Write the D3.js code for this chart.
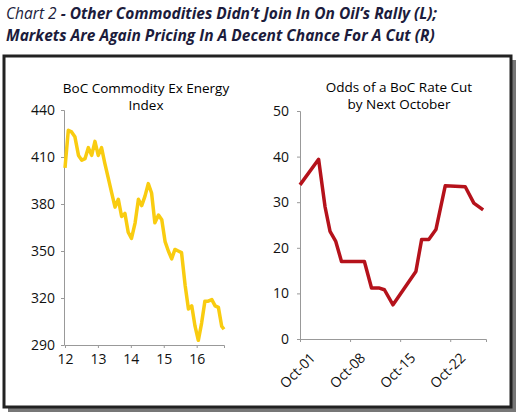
<!DOCTYPE html><html><head><meta charset="utf-8">
<script src="https://cdn.jsdelivr.net/npm/d3@7"></script>
<style>body{margin:0;background:#fff}text{font-family:"Open Sans",sans-serif}</style></head><body>
<svg id="c" width="522" height="417"></svg>
<script>
const leftYears=[12.00,12.10,12.20,12.30,12.41,12.51,12.61,12.71,12.81,12.91,13.01,13.11,13.21,13.32,13.42,13.52,13.62,13.72,13.82,13.92,14.02,14.13,14.23,14.33,14.43,14.53,14.63,14.73,14.84,14.94,15.04,15.14,15.24,15.34,15.44,15.54,15.65,15.75,15.85,15.95,16.05,16.15,16.25,16.35,16.46,16.56,16.66,16.76,16.83];
const leftValues=[403,427,426,423,411,408,409,416,411,420,411,416,406,396,387,378,383,372,374,362,358,368,383,379,385,393,387,368,373,370,356,350,345,351,350,349,328,313,315,302,293,304,318,318,319,315,314,302,300];
const leftTicksY=[290,320,350,380,410,440];
const leftTicksX=[12,13,14,15,16];
const rightDays=[1,3.6,4.5,5.2,6,6.8,10,11,12,12.8,14,17.2,18,19,20,21.3,24.1,25.3,26.6];
const rightValues=[33.8,39.4,29,23.6,21.4,17,17,11.2,11.2,10.8,7.5,14.8,21.8,21.8,24,33.6,33.4,29.8,28.3];
const rightTicksY=[0,10,20,30,40,50];
const rightTicksX=[1,8,15,22];
const rightTickLabels=["Oct-01","Oct-08","Oct-15","Oct-22"];

const svg=d3.select("#c");
svg.append("rect").attr("x",8).attr("y",60).attr("width",508).attr("height",352).attr("fill","#777");
svg.append("rect").attr("x",4).attr("y",56).attr("width",507).attr("height",351).attr("fill","#fff").attr("stroke","#222").attr("stroke-width",3);
const t=svg.append("text").attr("x",6).attr("y",19).attr("font-size",15.5).attr("font-style","italic").attr("fill","#1c1c3c");
t.append("tspan").text("Chart 2 ");t.append("tspan").attr("font-weight","bold").text("- Other Commodities Didn’t Join In On Oil’s Rally (L);");
svg.append("text").attr("x",6).attr("y",41).attr("font-size",15.5).attr("font-style","italic").attr("font-weight","bold").attr("fill","#1c1c3c").text("Markets Are Again Pricing In A Decent Chance For A Cut (R)");

function style(g){g.selectAll("path,line").attr("stroke","#999");g.selectAll("text").attr("font-size",14).attr("fill","#111").style("font-family","Open Sans");}
const lx=d3.scaleLinear().domain([12,16.83]).range([65,224]);
const ly=d3.scaleLinear().domain([290,440]).range([345,110]);
style(svg.append("g").attr("transform","translate(64,0)").call(d3.axisLeft(ly).tickValues(leftTicksY).tickSize(3).tickPadding(6)));
style(svg.append("g").attr("transform","translate(0,345)").call(d3.axisBottom(lx).tickValues(leftTicksX).tickFormat(d3.format("d")).tickSize(3).tickPadding(6)));
svg.append("path").datum(leftYears.map((y,i)=>[y,leftValues[i]])).attr("fill","none").attr("stroke","#f9cc10").attr("stroke-width",3.5).attr("stroke-linejoin","round")
 .attr("d",d3.line().x(d=>lx(d[0])).y(d=>ly(d[1])));
svg.append("text").attr("x",146).attr("y",93).attr("text-anchor","middle").attr("font-size",13.5).text("BoC Commodity Ex Energy");
svg.append("text").attr("x",146).attr("y",110).attr("text-anchor","middle").attr("font-size",13.5).text("Index");
const rx=d3.scaleLinear().domain([1,27]).range([300,486]);
const ry=d3.scaleLinear().domain([0,50]).range([339,111]);
style(svg.append("g").attr("transform","translate(300,0)").call(d3.axisLeft(ry).tickValues(rightTicksY).tickSize(3).tickPadding(8)));
const xa=svg.append("g").attr("transform","translate(0,339)").call(d3.axisBottom(rx).tickValues(rightTicksX).tickFormat((d,i)=>rightTickLabels[i]).tickSize(3));
style(xa);
xa.selectAll("text").attr("text-anchor","end").attr("transform","translate(8,12) rotate(-45)").attr("dy","0.35em");
svg.append("path").datum(rightDays.map((d,i)=>[d,rightValues[i]])).attr("fill","none").attr("stroke","#b5121b").attr("stroke-width",3.5).attr("stroke-linejoin","round")
 .attr("d",d3.line().x(d=>rx(d[0])).y(d=>ry(d[1])));
svg.append("text").attr("x",399).attr("y",92).attr("text-anchor","middle").attr("font-size",13.5).text("Odds of a BoC Rate Cut");
svg.append("text").attr("x",399).attr("y",109).attr("text-anchor","middle").attr("font-size",13.5).text("by Next October");
</script></body></html>
